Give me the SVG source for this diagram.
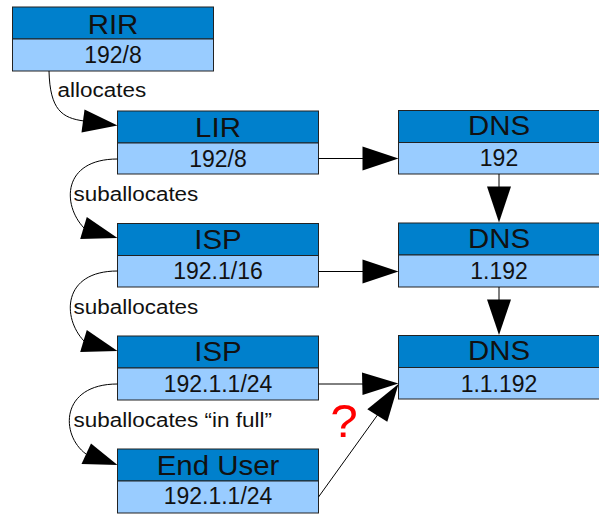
<svg xmlns="http://www.w3.org/2000/svg" width="599" height="514" viewBox="0 0 599 514">
<style>
.hd{fill:#0080cc;stroke:#222;stroke-width:1}
.sb{fill:#99ccff;stroke:#222;stroke-width:1}
text{font-family:"Liberation Sans",Arial,sans-serif;fill:#111}
.ht{font-size:27.5px;text-anchor:middle}
.st{font-size:23px;text-anchor:middle}
.lb{font-size:21px}
.q{font-size:47px;fill:#ff0000;text-anchor:middle}
.ln{fill:none;stroke:#000;stroke-width:1}
.ah{fill:#000;stroke:none}
</style>
<g id="rir">
<rect class="hd" x="12.5" y="7" width="201" height="32"/>
<rect class="sb" x="12.5" y="39" width="201" height="32"/>
<text class="ht" transform="translate(113,33.5) scale(1.07,1)">RIR</text>
<text class="st" x="113" y="63.3">192/8</text>
</g>
<g id="lir">
<rect class="hd" x="117.5" y="111" width="201" height="32"/>
<rect class="sb" x="117.5" y="143" width="201" height="31"/>
<text class="ht" transform="translate(218,137) scale(1.07,1)">LIR</text>
<text class="st" x="218" y="166.7">192/8</text>
</g>
<g id="isp1">
<rect class="hd" x="117.5" y="223.5" width="201" height="32"/>
<rect class="sb" x="117.5" y="255.5" width="201" height="31.5"/>
<text class="ht" transform="translate(218,249.3) scale(1.07,1)">ISP</text>
<text class="st" x="218" y="279">192.1/16</text>
</g>
<g id="isp2">
<rect class="hd" x="117.5" y="336" width="201" height="32"/>
<rect class="sb" x="117.5" y="368" width="201" height="32"/>
<text class="ht" transform="translate(218,361.3) scale(1.07,1)">ISP</text>
<text class="st" x="218" y="391.7">192.1.1/24</text>
</g>
<g id="enduser">
<rect class="hd" x="117.5" y="449" width="201" height="32"/>
<rect class="sb" x="117.5" y="481" width="201" height="32"/>
<text class="ht" transform="translate(218,475.3) scale(1.07,1)">End User</text>
<text class="st" x="218" y="504.3">192.1.1/24</text>
</g>
<g id="dns1">
<rect class="hd" x="398.5" y="110.5" width="201" height="32"/>
<rect class="sb" x="398.5" y="142.5" width="201" height="31.5"/>
<text class="ht" transform="translate(499,135.3) scale(1.07,1)">DNS</text>
<text class="st" x="499" y="165.7">192</text>
</g>
<g id="dns2">
<rect class="hd" x="398.5" y="223" width="201" height="32"/>
<rect class="sb" x="398.5" y="255" width="201" height="32"/>
<text class="ht" transform="translate(499,247.6) scale(1.07,1)">DNS</text>
<text class="st" x="499" y="279">1.192</text>
</g>
<g id="dns3">
<rect class="hd" x="398.5" y="335.5" width="201" height="32"/>
<rect class="sb" x="398.5" y="367.5" width="201" height="31.5"/>
<text class="ht" transform="translate(499,360.3) scale(1.07,1)">DNS</text>
<text class="st" x="499" y="391.7">1.1.192</text>
</g>
<g id="connectors">
<path class="ln" d="M49,71 C50,110 62,118 84,121"/>
<polygon class="ah" points="84.5,109.6 81.5,132.4 117.5,125.5"/>
<path class="ln" d="M117.5,159 C62,159 62,205 84,228"/>
<polygon class="ah" points="86.8,217 80.2,239 117.5,238"/>
<path class="ln" d="M117.5,271 C62,271 62,318 84,341"/>
<polygon class="ah" points="86.8,330 80.2,352 117.5,351"/>
<path class="ln" d="M117.5,384 C60,384 60,435 86,454"/>
<polygon class="ah" points="91,443.5 81.5,464 117.5,465"/>
<path class="ln" d="M318.5,158.5 H363"/>
<polygon class="ah" points="362.5,146.5 362.5,170.5 398.5,158.5"/>
<path class="ln" d="M318.5,271.5 H363"/>
<polygon class="ah" points="362.5,259.5 362.5,283.5 398.5,271.5"/>
<path class="ln" d="M499,174 V187"/>
<polygon class="ah" points="487,186.5 511,186.5 499,222.5"/>
<path class="ln" d="M499,287 V300"/>
<polygon class="ah" points="487,299.5 511,299.5 499,335"/>
<path class="ln" d="M318.5,384 H363"/>
<polygon class="ah" points="362,372.5 362.5,395 398.5,383.5"/>
<path class="ln" d="M318.5,497 L377.5,415"/>
<polygon class="ah" points="367.3,409.3 387.3,421.7 398.5,384"/>
</g>
<g id="labels">
<text class="lb" transform="translate(57.5,96.7) scale(1.07,1)">allocates</text>
<text class="lb" transform="translate(73.5,201) scale(1.07,1)">suballocates</text>
<text class="lb" transform="translate(73.5,314.3) scale(1.07,1)">suballocates</text>
<text class="lb" transform="translate(73.5,426.7) scale(1.07,1)">suballocates “in full”</text>
<text class="q" transform="translate(344,437.3) scale(1.05,1)">?</text>
</g>
</svg>
